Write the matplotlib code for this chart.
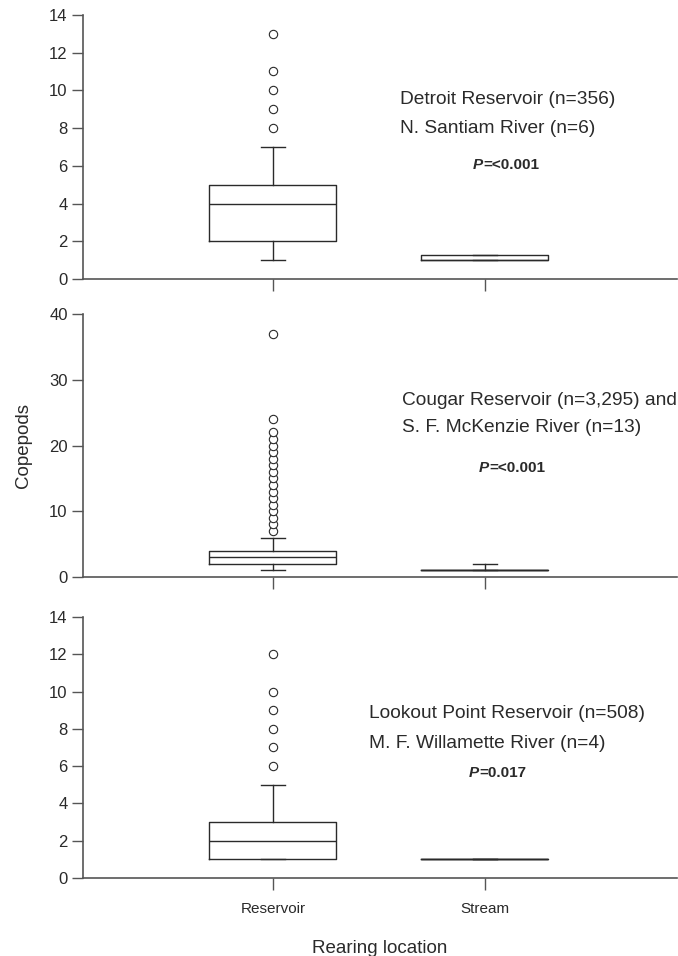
import matplotlib
matplotlib.use("Agg")
import matplotlib.pyplot as plt

plt.rcParams['font.family'] = ['Liberation Sans', 'DejaVu Sans']

# box statistics (reservoir, stream) for each panel
groups = ['Reservoir', 'Stream']
med = [[4, 1], [3, 1], [2, 1]]
q1 = [[2, 1], [2, 1], [1, 1]]
q3 = [[5, 1.25], [4, 1], [3, 1]]
wlo = [[1, 1], [1, 1], [1, 1]]
whi = [[7, 1.25], [6, 2], [5, 1]]
fliers = [
    [[8, 9, 10, 11, 13], []],
    [[7, 8, 9, 10, 11, 12, 13, 14, 15, 16, 17, 18, 19, 20, 21, 22, 24, 37], []],
    [[6, 7, 8, 9, 10, 12], []],
]
ymax = [14, 40, 14]
yticks = [range(0, 15, 2), range(0, 41, 10), range(0, 15, 2)]
site_lines = [
    ['Detroit Reservoir (n=356)', 'N. Santiam River (n=6)'],
    ['Cougar Reservoir (n=3,295) and', 'S. F. McKenzie River (n=13)'],
    ['Lookout Point Reservoir (n=508)', 'M. F. Willamette River (n=4)'],
]
pvals = ['=<0.001', '=<0.001', '=0.017']

# text placement (data coords) per panel
txt_x = [1.599, 1.608, 1.453]
txt_y = [[9.49, 8.0], [26.9, 22.7], [8.85, 7.24]]
p_x = [1.943, 1.972, 1.925]
p_y = [6.04, 16.6, 5.63]

ink = '#2a2a2a'
axc = '#555555'

fig = plt.figure(figsize=(6.78, 9.56), dpi=100)
boxes = [[0.1224, 0.7082, 0.876, 0.2762],
         [0.1224, 0.3964, 0.876, 0.2751],
         [0.1224, 0.0816, 0.876, 0.2730]]

for i in range(3):
    ax = fig.add_axes(boxes[i])
    stats = []
    for j in range(2):
        stats.append(dict(med=med[i][j], q1=q1[i][j], q3=q3[i][j],
                          whislo=wlo[i][j], whishi=whi[i][j],
                          fliers=fliers[i][j], label=groups[j]))
    ax.bxp(stats, positions=[1, 2], widths=0.6, capwidths=0.113,
           boxprops=dict(color=ink, lw=1),
           medianprops=dict(color=ink, lw=1),
           whiskerprops=dict(color=ink, lw=1),
           capprops=dict(color=ink, lw=1),
           flierprops=dict(marker='o', markersize=6, markerfacecolor='white',
                           markeredgecolor=ink, markeredgewidth=0.8))
    ax.set_xlim(0.104, 2.906)
    ax.set_ylim(0, ymax[i])
    ax.set_yticks(list(yticks[i]))
    for s in ['top', 'right']:
        ax.spines[s].set_visible(False)
    for s in ['left', 'bottom']:
        ax.spines[s].set_color(axc)
        ax.spines[s].set_linewidth(1.2)
    ax.tick_params(axis='y', length=8, width=1, color=axc, labelsize=12,
                   labelcolor=ink, pad=3)
    ax.tick_params(axis='x', length=8.6, width=1, color=axc, labelsize=11,
                   labelcolor=ink, pad=9)
    if i < 2:
        ax.set_xticklabels([])
    else:
        ax.set_xlabel('Rearing location', fontsize=13.5, color=ink, labelpad=17)
    if i == 1:
        ax.set_ylabel('Copepods', fontsize=13.5, color=ink, labelpad=12)

    for k in range(2):
        ax.text(txt_x[i], txt_y[i][k], site_lines[i][k], fontsize=13.8,
                color=ink, ha='left', va='center')
    tp = ax.text(p_x[i], p_y[i], 'P', fontsize=11, fontweight='bold',
                 fontstyle='italic', color=ink, ha='left', va='center')
    ax.annotate(pvals[i], xy=(1, 0), xycoords=tp, fontsize=11,
                fontweight='bold', color=ink, ha='left', va='bottom')

fig.savefig('out.png', dpi=100)
